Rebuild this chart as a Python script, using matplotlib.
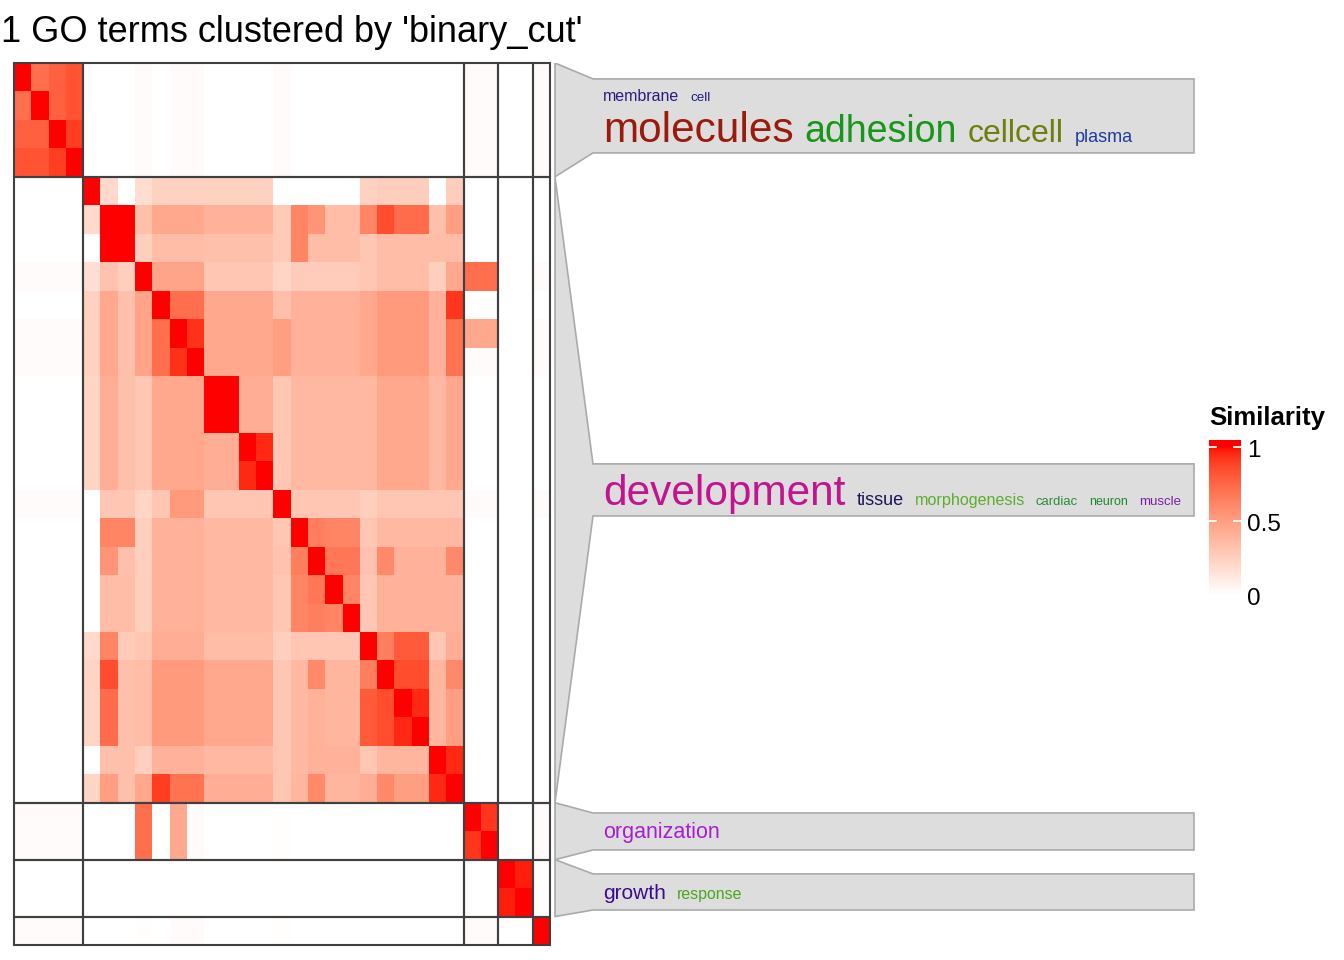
import numpy as np
import matplotlib
matplotlib.use("Agg")
import matplotlib.pyplot as plt
from matplotlib.colors import ListedColormap
from matplotlib.patches import Polygon, Rectangle

plt.rcParams['font.family'] = ['Liberation Sans', 'DejaVu Sans']

TITLE = "31 GO terms clustered by 'binary_cut'"
cluster_sizes = [4, 22, 2, 2, 1]
f = 0.02  # barely visible similarity

# similarity matrix, 31 x 31, read row by row
sim = np.array([
    [1, .72, .78, .83, 0, 0, 0, f, 0, f, f, 0, 0, 0, 0, f, 0, 0, 0, 0, 0, 0, 0, 0, 0, 0, f, f, 0, 0, f],
    [.72, 1, .78, .83, 0, 0, 0, f, 0, f, f, 0, 0, 0, 0, f, 0, 0, 0, 0, 0, 0, 0, 0, 0, 0, f, f, 0, 0, f],
    [.78, .78, 1, .9, 0, 0, 0, f, 0, f, f, 0, 0, 0, 0, f, 0, 0, 0, 0, 0, 0, 0, 0, 0, 0, f, f, 0, 0, f],
    [.83, .83, .9, 1, 0, 0, 0, f, 0, f, f, 0, 0, 0, 0, f, 0, 0, 0, 0, 0, 0, 0, 0, 0, 0, f, f, 0, 0, f],
    [0, 0, 0, 0, 1, .2, 0, .18, .24, .24, .24, .24, .24, .24, .24, 0, 0, 0, 0, 0, .24, .26, .26, .26, 0, .26, 0, 0, 0, 0, 0],
    [0, 0, 0, 0, .2, 1, 1, .33, .45, .45, .45, .4, .4, .4, .4, .28, .62, .55, .35, .35, .62, .85, .73, .73, .33, .5, 0, 0, 0, 0, 0],
    [0, 0, 0, 0, 0, 1, 1, .25, .35, .35, .35, .33, .33, .33, .33, .28, .62, .35, .35, .35, .3, .35, .35, .35, .35, .35, 0, 0, 0, 0, 0],
    [f, f, f, f, .17, .32, .25, 1, .47, .47, .47, .3, .3, .3, .3, .22, .27, .27, .27, .27, .3, .35, .35, .35, .25, .45, .72, .72, 0, 0, f],
    [0, 0, 0, 0, .24, .45, .33, .47, 1, .72, .72, .45, .45, .45, .45, .33, .4, .4, .4, .4, .45, .52, .52, .52, .4, .92, 0, 0, 0, 0, 0],
    [f, f, f, f, .24, .45, .33, .47, .72, 1, .93, .45, .45, .45, .45, .5, .4, .4, .4, .4, .45, .52, .52, .52, .4, .7, .45, .45, 0, 0, f],
    [f, f, f, f, .24, .45, .33, .47, .72, .93, 1, .45, .45, .45, .45, .5, .4, .4, .4, .4, .45, .52, .52, .52, .4, .7, f, f, 0, 0, f],
    [0, 0, 0, 0, .22, .42, .33, .3, .45, .45, .45, 1, 1, .42, .42, .3, .37, .37, .37, .37, .37, .45, .45, .45, .37, .45, 0, 0, 0, 0, 0],
    [0, 0, 0, 0, .22, .42, .33, .3, .45, .45, .45, 1, 1, .42, .42, .3, .37, .37, .37, .37, .37, .45, .45, .45, .37, .45, 0, 0, 0, 0, 0],
    [0, 0, 0, 0, .22, .42, .33, .3, .45, .45, .45, .42, .42, 1, .95, .3, .37, .37, .37, .37, .37, .45, .45, .45, .37, .45, 0, 0, 0, 0, 0],
    [0, 0, 0, 0, .22, .42, .33, .3, .45, .45, .45, .42, .42, .95, 1, .3, .37, .37, .37, .37, .37, .45, .45, .45, .37, .45, 0, 0, 0, 0, 0],
    [f, f, f, f, 0, .3, .3, .22, .3, .52, .52, .3, .3, .3, .3, 1, .3, .3, .3, .3, .25, .3, .3, .3, .3, .3, f, f, 0, 0, f],
    [0, 0, 0, 0, 0, .62, .62, .25, .4, .4, .4, .37, .37, .37, .37, .3, 1, .65, .62, .62, .3, .37, .37, .37, .37, .37, 0, 0, 0, 0, 0],
    [0, 0, 0, 0, 0, .55, .33, .25, .4, .4, .4, .37, .37, .37, .37, .32, .65, 1, .68, .68, .32, .6, .4, .4, .4, .6, 0, 0, 0, 0, 0],
    [0, 0, 0, 0, 0, .35, .35, .25, .4, .4, .4, .37, .37, .37, .37, .3, .62, .68, 1, .62, .3, .4, .4, .4, .4, .4, 0, 0, 0, 0, 0],
    [0, 0, 0, 0, 0, .35, .35, .25, .4, .4, .4, .37, .37, .37, .37, .3, .62, .65, .62, 1, .3, .4, .4, .4, .4, .4, 0, 0, 0, 0, 0],
    [0, 0, 0, 0, .2, .62, .28, .3, .42, .42, .42, .35, .35, .35, .35, .25, .3, .3, .3, .3, 1, .65, .8, .8, .3, .42, 0, 0, 0, 0, 0],
    [0, 0, 0, 0, .22, .85, .33, .35, .52, .52, .52, .45, .45, .45, .45, .3, .37, .6, .38, .38, .65, 1, .85, .85, .38, .6, 0, 0, 0, 0, 0],
    [0, 0, 0, 0, .22, .73, .33, .35, .52, .52, .52, .45, .45, .45, .45, .3, .37, .4, .38, .38, .8, .85, 1, .95, .38, .5, 0, 0, 0, 0, 0],
    [0, 0, 0, 0, .22, .73, .33, .35, .52, .52, .52, .45, .45, .45, .45, .3, .37, .4, .38, .38, .8, .85, .95, 1, .38, .5, 0, 0, 0, 0, 0],
    [0, 0, 0, 0, 0, .33, .33, .25, .4, .4, .4, .37, .37, .37, .37, .3, .37, .4, .4, .4, .3, .38, .38, .38, 1, .95, 0, 0, 0, 0, 0],
    [0, 0, 0, 0, .22, .5, .33, .45, .9, .7, .7, .42, .42, .42, .42, .3, .38, .6, .38, .38, .42, .6, .5, .5, .95, 1, 0, 0, 0, 0, 0],
    [f, f, f, f, 0, 0, 0, .72, 0, .45, f, 0, 0, 0, 0, .01, 0, 0, 0, 0, 0, 0, 0, 0, 0, 0, 1, .92, 0, 0, f],
    [f, f, f, f, 0, 0, 0, .72, 0, .45, f, 0, 0, 0, 0, .01, 0, 0, 0, 0, 0, 0, 0, 0, 0, 0, .92, 1, 0, 0, f],
    [0, 0, 0, 0, 0, 0, 0, 0, 0, 0, 0, 0, 0, 0, 0, 0, 0, 0, 0, 0, 0, 0, 0, 0, 0, 0, 0, 0, 1, .97, 0],
    [0, 0, 0, 0, 0, 0, 0, 0, 0, 0, 0, 0, 0, 0, 0, 0, 0, 0, 0, 0, 0, 0, 0, 0, 0, 0, 0, 0, .97, 1, 0],
    [f, f, f, f, 0, 0, 0, .01, 0, f, f, 0, 0, 0, 0, .01, 0, 0, 0, 0, 0, 0, 0, 0, 0, 0, f, f, 0, 0, 1],
])

# word clouds, one per cluster (last cluster has none); each is a list of lines
cloud_words = [
    [["membrane", "cell"], ["molecules", "adhesion", "cellcell", "plasma"]],
    [["development", "tissue", "morphogenesis", "cardiac", "neuron", "muscle"]],
    [["organization"]],
    [["growth", "response"]],
]
cloud_sizes = [
    [[11.5, 9.6], [30.5, 27, 23, 13]],
    [[30.5, 13, 11.6, 9.4, 9, 9.5]],
    [[15.5]],
    [[15, 11.4]],
]
cloud_colors = [
    [["#2b1b7e", "#1c1c80"], ["#9c1a0b", "#17961a", "#6f7d0e", "#1f3c9a"]],
    [["#c2148f", "#1b1656", "#5bae2a", "#2b8c3a", "#198a2c", "#7b1fa8"]],
    [["#a61fd2"]],
    [["#3b0c8c", "#4da523"]],
]
# box extents and text baselines, in heatmap row units
box_rows = [(0.56, 3.16), (14.09, 15.92), (26.36, 27.66), (28.50, 29.77)]
line_rows = [[1.33, 2.78], [15.53], [27.24], [29.38]]

legend_ticks = [0, 0.5, 1]


def lab_ramp(c0, c1, n=256):
    # white -> red interpolated in CIE LAB, like colorRamp2
    def to_lin(c):
        return np.where(c <= 0.04045, c / 12.92, ((c + 0.055) / 1.055) ** 2.4)

    def to_srgb(c):
        c = np.clip(c, 0, 1)
        return np.where(c <= 0.0031308, 12.92 * c, 1.055 * c ** (1 / 2.4) - 0.055)

    M = np.array([[0.4124, 0.3576, 0.1805], [0.2126, 0.7152, 0.0722], [0.0193, 0.1192, 0.9505]])
    wp = np.array([0.95047, 1.0, 1.08883])
    d = 6 / 29

    def fwd(t):
        return np.where(t > d ** 3, np.cbrt(t), t / (3 * d * d) + 4 / 29)

    def inv(t):
        return np.where(t > d, t ** 3, 3 * d * d * (t - 4 / 29))

    def to_lab(rgb):
        xyz = M @ to_lin(np.array(rgb)) / wp
        fx, fy, fz = fwd(xyz)
        return np.array([116 * fy - 16, 500 * (fx - fy), 200 * (fy - fz)])

    l0, l1 = to_lab(c0), to_lab(c1)
    out = []
    for t in np.linspace(0, 1, n):
        L, a, b = l0 + (l1 - l0) * t
        fy = (L + 16) / 116
        xyz = np.array([inv(fy + a / 500), inv(fy), inv(fy - b / 200)]) * wp
        out.append(to_srgb(np.linalg.solve(M, xyz)))
    return ListedColormap(out)


cmap = lab_ramp([1, 1, 1], [1, 0, 0])

W, H = 1344, 960
fig = plt.figure(figsize=(W / 100, H / 100), dpi=100)

# heatmap
hm_left, hm_top, hm_w, hm_h = 14, 63, 536, 882
ax = fig.add_axes([hm_left / W, 1 - (hm_top + hm_h) / H, hm_w / W, hm_h / H])
n = sim.shape[0]
ax.pcolormesh(np.arange(n + 1), np.arange(n + 1), sim, cmap=cmap, vmin=0, vmax=1,
              shading='flat', antialiased=False, edgecolors='none')
ax.set_xlim(0, n)
ax.set_ylim(n, 0)
ax.axis('off')

bounds = np.concatenate([[0], np.cumsum(cluster_sizes)])
for i in range(len(cluster_sizes)):
    for j in range(len(cluster_sizes)):
        ax.add_patch(Rectangle((bounds[j], bounds[i]), cluster_sizes[j], cluster_sizes[i],
                               fill=False, edgecolor='#404040', lw=1.5, clip_on=False))

# title is wider than the canvas on the left, as in the original
ax.text(0.5, 1 + 21 / hm_h, TITLE, transform=ax.transAxes, ha='center', va='baseline',
        fontsize=26)

# word cloud panel, sharing the row scale of the heatmap
wc_left, wc_w = 553, 643
axw = fig.add_axes([wc_left / W, 1 - (hm_top + hm_h) / H, wc_w / W, hm_h / H])
axw.set_xlim(0, wc_w)
axw.set_ylim(n, 0)
axw.axis('off')

fig.canvas.draw()
renderer = fig.canvas.get_renderer()

for k, (top, bot) in enumerate(box_rows):
    r0, r1 = bounds[k], bounds[k + 1]
    pts = [(2, r0), (40, top), (641, top), (641, bot), (40, bot), (2, r1)]
    axw.add_patch(Polygon(pts, closed=True, facecolor='#dddddd', edgecolor='#aaaaaa', lw=1.2))
    for words, sizes, cols, base in zip(cloud_words[k], cloud_sizes[k], cloud_colors[k], line_rows[k]):
        x = 50
        for w, s, c in zip(words, sizes, cols):
            t = axw.text(x, base, w, fontsize=s, color=c, ha='left', va='baseline')
            x += t.get_window_extent(renderer).width + 11

# legend
lg_left, lg_top, lg_w, lg_h = 1209, 440, 32, 155
axl = fig.add_axes([lg_left / W, 1 - (lg_top + lg_h) / H, lg_w / W, lg_h / H])
top_val = 1 + 7 / 148
grad = np.linspace(0, top_val, 200).reshape(-1, 1)
axl.imshow(np.clip(grad, 0, 1), cmap=cmap, vmin=0, vmax=1, aspect='auto', origin='lower',
           extent=[0, 1, 0, top_val])
axl.set_xlim(0, 1)
axl.set_ylim(0, top_val)
axl.axis('off')
for v in legend_ticks:
    if v > 0:
        axl.plot([0, 0.22], [v, v], color='white', lw=1.3)
        axl.plot([0.78, 1], [v, v], color='white', lw=1.3)
    axl.text(1.19, v - 4 / 148, f"{v:g}", ha='left', va='center',
             fontsize=17.5, clip_on=False)
axl.text(0, top_val + 15 / 148, "Similarity", ha='left', va='baseline', fontsize=18.5,
         fontweight='bold', clip_on=False)

fig.savefig("out.png", dpi=100)
